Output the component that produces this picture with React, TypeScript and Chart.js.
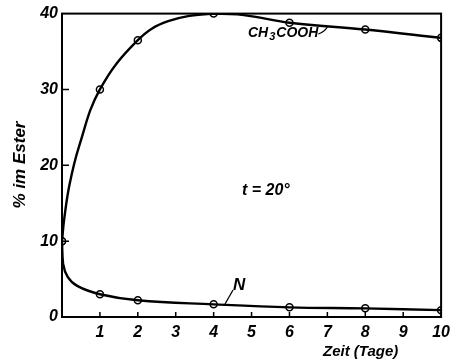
import React, { useEffect, useRef } from "react";
import { Chart, registerables } from "chart.js";

Chart.register(...registerables);

// CH3COOH series: measured points (days, % im Ester)
const acidDays = [0, 1, 2, 4, 6, 8, 10];
const acidValues = [10, 30, 36.5, 40, 38.8, 37.9, 36.8];
// extra points (no markers)
const acidCurveDays = [0.06, 0.2, 0.45, 2.8, 4.8];
const acidCurveValues = [13, 17.5, 22.5, 39, 39.8];

// N series: measured points
const nDays = [0, 1, 2, 4, 6, 8, 10];
const nValues = [10, 3.0, 2.2, 1.67, 1.27, 1.14, 0.9];
// extra points (no markers)
const nCurveDays = [0.03, 0.15, 0.4];
const nCurveValues = [7.0, 5.3, 4.1];

const xTicks = [1, 2, 3, 4, 5, 6, 7, 8, 9, 10];
const yTicks = [0, 10, 20, 30, 40];

const FONT = "'Liberation Sans', 'DejaVu Sans', sans-serif";

function merge(xs: number[], ys: number[], cx: number[], cy: number[]) {
  const pts = xs.map((x, i) => ({ x, y: ys[i] }));
  cx.forEach((x, i) => pts.push({ x, y: cy[i] }));
  pts.sort((a, b) => a.x - b.x);
  return pts;
}

const annotationPlugin = {
  id: "annotations",
  afterDraw(chart: any) {
    const ctx = chart.ctx;
    const ca = chart.chartArea;
    const xs = chart.scales.x;
    const ys = chart.scales.y;
    ctx.save();
    ctx.strokeStyle = "#000";
    ctx.fillStyle = "#000";
    // frame
    ctx.lineWidth = 2;
    ctx.strokeRect(ca.left, ca.top, ca.right - ca.left, ca.bottom - ca.top);
    // inside tick marks
    ctx.lineWidth = 1.5;
    ctx.beginPath();
    xTicks.forEach((v) => {
      const px = xs.getPixelForValue(v);
      ctx.moveTo(px, ca.bottom);
      ctx.lineTo(px, ca.bottom - 5);
    });
    yTicks.forEach((v) => {
      if (v === 0 || v === 40) return;
      const py = ys.getPixelForValue(v);
      ctx.moveTo(ca.left, py);
      ctx.lineTo(ca.left + 7, py);
    });
    ctx.stroke();

    // CH3COOH label
    ctx.textBaseline = "alphabetic";
    ctx.textAlign = "left";
    let x = 248;
    const base = 37;
    ctx.font = `italic bold 14px ${FONT}`;
    ctx.fillText("CH", x, base);
    x += ctx.measureText("CH").width;
    ctx.font = `italic bold 11px ${FONT}`;
    ctx.fillText("3", x + 1, base + 3);
    x += ctx.measureText("3").width + 2;
    ctx.font = `italic bold 14px ${FONT}`;
    ctx.fillText("COOH", x, base);
    x += ctx.measureText("COOH").width;
    ctx.lineWidth = 1.3;
    ctx.beginPath();
    ctx.moveTo(x, base - 3);
    ctx.quadraticCurveTo(x + 6, base - 5, x + 9, base - 10);
    ctx.stroke();

    // N label and leader
    ctx.font = `italic bold 17px ${FONT}`;
    ctx.fillText("N", 233, 290);
    ctx.beginPath();
    ctx.moveTo(225, 304);
    ctx.lineTo(233, 290);
    ctx.stroke();

    // t = 20°
    ctx.font = `italic bold 16px ${FONT}`;
    ctx.fillText("t = 20°", 242, 195);

    // x-axis title
    ctx.font = `italic bold 15px ${FONT}`;
    ctx.fillText("Zeit (Tage)", 323, 356);

    // y-axis title
    ctx.translate(25, 165);
    ctx.rotate(-Math.PI / 2);
    ctx.textAlign = "center";
    ctx.font = `italic bold 17px ${FONT}`;
    ctx.fillText("% im Ester", 0, 0);
    ctx.restore();
  },
};

export default function App() {
  const ref = useRef<HTMLCanvasElement | null>(null);
  useEffect(() => {
    if (!ref.current) return;
    const acidLine = merge(acidDays, acidValues, acidCurveDays, acidCurveValues);
    const nLine = merge(nDays, nValues, nCurveDays, nCurveValues);
    const chart = new Chart(ref.current, {
      type: "line",
      data: {
        datasets: [
          {
            data: acidLine,
            borderColor: "#000",
            borderWidth: 2.4,
            pointRadius: 0,
            tension: 0.4,
            fill: false,
          },
          {
            data: nLine,
            borderColor: "#000",
            borderWidth: 2.4,
            pointRadius: 0,
            tension: 0.4,
            fill: false,
          },
          {
            data: acidDays.map((x, i) => ({ x, y: acidValues[i] })),
            showLine: false,
            pointRadius: 3.5,
            pointBackgroundColor: "#fff",
            pointBorderColor: "#000",
            pointBorderWidth: 1.5,
          },
          {
            data: nDays.map((x, i) => ({ x, y: nValues[i] })),
            showLine: false,
            pointRadius: 3.5,
            pointBackgroundColor: "#fff",
            pointBorderColor: "#000",
            pointBorderWidth: 1.5,
          },
        ] as any,
      },
      options: {
        animation: false,
        responsive: false,
        maintainAspectRatio: false,
        layout: { padding: { top: 13, right: 14, left: 0, bottom: 0 } },
        plugins: { legend: { display: false }, tooltip: { enabled: false } },
        scales: {
          x: {
            type: "linear",
            min: 0,
            max: 10,
            afterFit: (s: any) => {
              s.height = 44;
            },
            afterBuildTicks: (s: any) => {
              s.ticks = xTicks.map((v) => ({ value: v }));
            },
            grid: { display: false, drawTicks: false },
            border: { display: true, color: "#000", width: 2 },
            ticks: {
              color: "#000",
              padding: 6,
              font: { family: FONT, size: 16, style: "italic", weight: "bold" },
            },
          },
          y: {
            type: "linear",
            min: 0,
            max: 40,
            afterFit: (s: any) => {
              s.width = 62;
            },
            afterBuildTicks: (s: any) => {
              s.ticks = yTicks.map((v) => ({ value: v }));
            },
            grid: { display: false, drawTicks: false },
            border: { display: true, color: "#000", width: 2 },
            ticks: {
              color: "#000",
              padding: 4,
              font: { family: FONT, size: 16, style: "italic", weight: "bold" },
            },
          },
        },
      },
      plugins: [annotationPlugin],
    });
    return () => chart.destroy();
  }, []);
  return (
    <div style={{ position: "absolute", left: 0, top: 0, width: 456, height: 361, background: "#fff" }}>
      <canvas ref={ref} width={456} height={361} style={{ width: 456, height: 361 }} />
    </div>
  );
}
